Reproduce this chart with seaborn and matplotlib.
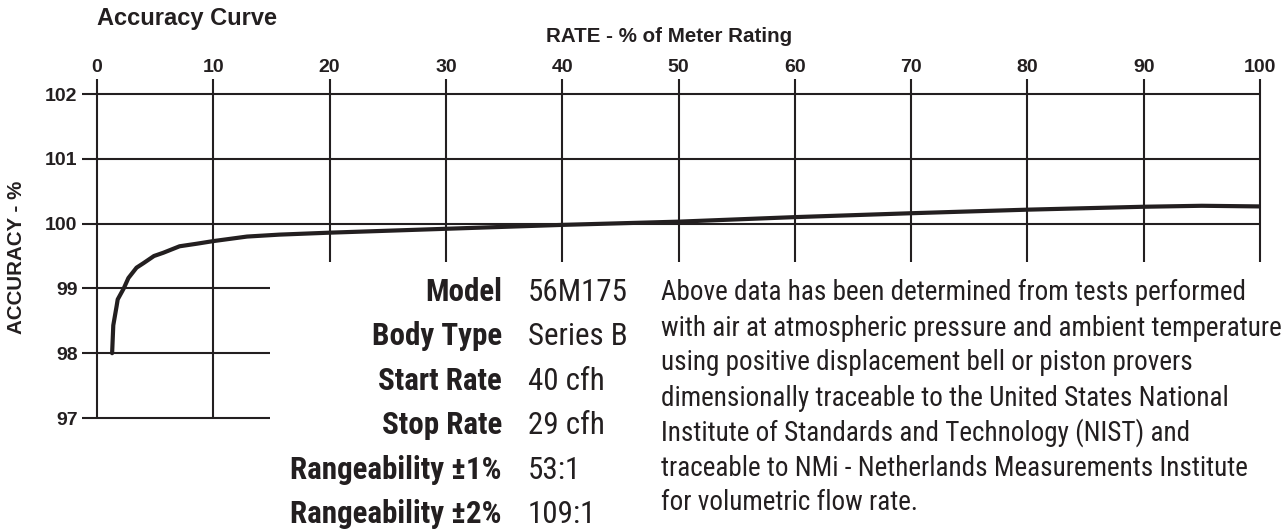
import matplotlib
matplotlib.use("Agg")
import matplotlib.pyplot as plt
import seaborn as sns
import pandas as pd

# ---- data ----
rate = [1.3, 1.4, 1.69, 1.78, 2.3, 2.7, 3.4, 4.0, 4.9, 5.7, 7.1, 8.6, 10,
        12.9, 15.7, 20, 30, 40, 50, 60, 70, 80, 90, 95, 100]
accuracy = [98.0, 98.43, 98.73, 98.83, 99.0, 99.16, 99.32, 99.39, 99.5,
            99.55, 99.65, 99.69, 99.73, 99.8, 99.83, 99.86, 99.92, 99.98,
            100.03, 100.1, 100.16, 100.215, 100.26, 100.275, 100.265]
x_ticks = [0, 10, 20, 30, 40, 50, 60, 70, 80, 90, 100]
y_ticks = [97, 98, 99, 100, 101, 102]
spec_labels = ["Model", "Body Type", "Start Rate", "Stop Rate",
               "Rangeability ±1%", "Rangeability ±2%"]
spec_values = ["56M175", "Series B", "40 cfh", "29 cfh", "53:1", "109:1"]
note_lines = [
    "Above data has been determined from tests performed",
    "with air at atmospheric pressure and ambient temperature",
    "using positive displacement bell or piston provers",
    "dimensionally traceable to the United States National",
    "Institute of Standards and Technology (NIST) and",
    "traceable to NMi - Netherlands Measurements Institute",
    "for volumetric flow rate.",
]

W, H = 1288, 532
INK = "#231f20"
sns.set_theme(style="white")
plt.rcParams['font.family'] = ['Liberation Sans', 'DejaVu Sans']
COND = ['Roboto Condensed', 'DejaVu Sans']

fig = plt.figure(figsize=(W / 100, H / 100), dpi=100)
fig.patch.set_facecolor("white")


def px(x, y):
    return (x / W, 1 - y / H)


ax = fig.add_axes([97 / W, 1 - 418 / H, 1163 / W, 324 / H])
ax.set_xlim(0, 100)
ax.set_ylim(97, 102)
for s in ax.spines.values():
    s.set_visible(False)
ax.grid(False)

# chart grid (partial lines as in the reference)
for yv in y_ticks:
    xend = 100 if yv >= 100 else 14.9
    ax.hlines(yv, -1.3, xend, colors=INK, linewidth=1.5, clip_on=False, zorder=1)
for xv in x_ticks:
    ybot = 97 if xv <= 10 else 99.415
    ax.vlines(xv, ybot, 102.23, colors=INK, linewidth=1.5, clip_on=False, zorder=1)

df = pd.DataFrame({"rate": rate, "accuracy": accuracy})
sns.lineplot(data=df, x="rate", y="accuracy", ax=ax, color=INK,
             linewidth=3.0, zorder=3, sort=True)
ax.set_xlabel("")
ax.set_ylabel("")

ax.set_xticks(x_ticks)
ax.set_yticks(y_ticks)
ax.xaxis.tick_top()
ax.tick_params(axis='x', length=0, pad=13, labelsize=14, colors=INK)
ax.tick_params(axis='y', length=0, pad=14, labelsize=14, colors=INK)
for lbl in ax.get_xticklabels() + ax.get_yticklabels():
    lbl.set_fontweight('bold')

fig.text(*px(97, 18), "Accuracy Curve", ha='left', va='center',
         fontsize=17, fontweight='bold', color=INK)
fig.text(*px(669.5, 37), "RATE - % of Meter Rating", ha='center', va='center',
         fontsize=14.8, fontweight='bold', color=INK)
fig.text(*px(17, 257), "ACCURACY - %", ha='center', va='center', rotation=90,
         fontsize=14.8, fontweight='bold', color=INK)

renderer = fig.canvas.get_renderer()


def text_width(s, size, **kw):
    t = fig.text(0, 0, s, fontsize=size, family=COND, **kw)
    w = t.get_window_extent(renderer).width
    t.remove()
    return w


# spec table: condensed bold labels, condensed regular values
spec_size = 18 * 211.0 / text_width(spec_labels[-1], 18, fontweight='bold')
for i, (lab, val) in enumerate(zip(spec_labels, spec_values)):
    yb = 300.7 + i * 44.5
    fig.text(*px(502, yb), lab, ha='right', va='baseline', fontsize=spec_size,
             fontweight='bold', family=COND, color=INK)
    fig.text(*px(528, yb), val, ha='left', va='baseline', fontsize=spec_size,
             family=COND, color=INK)

# note paragraph: match the reference line width as far as possible while
# keeping every full line inside the figure
NOTE_X = 661
want = 18 * 614.0 / text_width(note_lines[3], 18)
widest = max(text_width(l, 18) for l in note_lines)
fit = 18 * (W - 5 - NOTE_X) / widest
note_size = min(want, fit)
for i, line in enumerate(note_lines):
    yb = 300.5 + i * 35.0
    fig.text(*px(NOTE_X, yb), line, ha='left', va='baseline', fontsize=note_size,
             family=COND, color=INK)

fig.savefig("out.png", dpi=100, facecolor="white")
